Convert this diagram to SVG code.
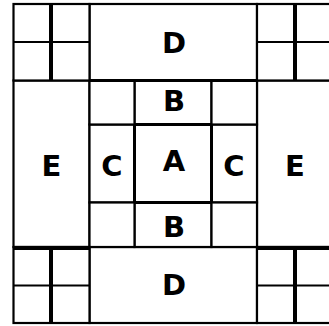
<svg xmlns="http://www.w3.org/2000/svg" width="329" height="326" viewBox="0 0 329 326">
<style>
rect{fill:#fff;stroke:#000;stroke-width:2.2}
line{stroke:#000;stroke-width:2.2}
.t{stroke-width:4}
.m{stroke-width:3}
text{font-family:"DejaVu Sans","Liberation Sans",sans-serif;font-weight:bold;font-size:29px;text-anchor:middle;fill:#000}
</style>
<rect x="0" y="0" width="329" height="326" style="stroke:none"/>
<g id="D-top"><rect x="89.5" y="4" width="167.5" height="76.5"/><text x="174" y="53">D</text></g>
<g id="D-bottom"><rect x="89.5" y="247" width="167.5" height="76"/><text x="174" y="295">D</text></g>
<g id="E-left"><rect x="13.5" y="80.5" width="76" height="166.5"/><text x="51.5" y="176">E</text></g>
<g id="E-right"><rect x="257" y="80.5" width="76" height="166.5"/><text x="295" y="176">E</text></g>
<g id="C-left"><rect x="89.5" y="124.5" width="45" height="78"/><text x="112" y="176">C</text></g>
<g id="C-right"><rect x="211.5" y="124.5" width="45.5" height="78"/><text x="234" y="176">C</text></g>
<g id="B-top"><rect x="134.5" y="80.5" width="77" height="44"/><text x="174" y="111">B</text></g>
<g id="B-bottom"><rect x="134.5" y="202.5" width="77" height="44.5"/><text x="174" y="237">B</text></g>
<g id="A"><rect x="134.5" y="124.5" width="77" height="78" style="stroke-width:3"/><text x="174" y="171">A</text></g>
<g id="sq-tl"><rect x="89.5" y="80.5" width="45" height="44"/></g>
<g id="sq-tr"><rect x="211.5" y="80.5" width="45.5" height="44"/></g>
<g id="sq-bl"><rect x="89.5" y="202.5" width="45" height="44.5"/></g>
<g id="sq-br"><rect x="211.5" y="202.5" width="45.5" height="44.5"/></g>
<g id="corner-tl"><rect x="13.5" y="4" width="76" height="76.5"/><line x1="13.5" y1="42" x2="89.5" y2="42"/><line class="t" x1="51" y1="4" x2="51" y2="80.5"/></g>
<g id="corner-tr"><rect x="257" y="4" width="76" height="76.5"/><line x1="257" y1="42" x2="333" y2="42"/><line class="t" x1="295" y1="4" x2="295" y2="80.5"/></g>
<g id="corner-bl"><rect x="13.5" y="247" width="76" height="76"/><line x1="13.5" y1="285.5" x2="89.5" y2="285.5"/><line class="t" x1="51" y1="247" x2="51" y2="323"/><line class="t" x1="13.5" y1="248" x2="89.5" y2="248"/></g>
<g id="corner-br"><rect x="257" y="247" width="76" height="76"/><line x1="257" y1="285.5" x2="333" y2="285.5"/><line class="t" x1="295" y1="247" x2="295" y2="323"/><line class="t" x1="257" y1="248" x2="333" y2="248"/></g>
<g id="connectors"><line class="m" x1="89.5" y1="80.5" x2="257" y2="80.5"/><line class="m" x1="134.5" y1="124.5" x2="211.5" y2="124.5"/><line class="m" x1="134.5" y1="202.5" x2="211.5" y2="202.5"/></g>
</svg>
